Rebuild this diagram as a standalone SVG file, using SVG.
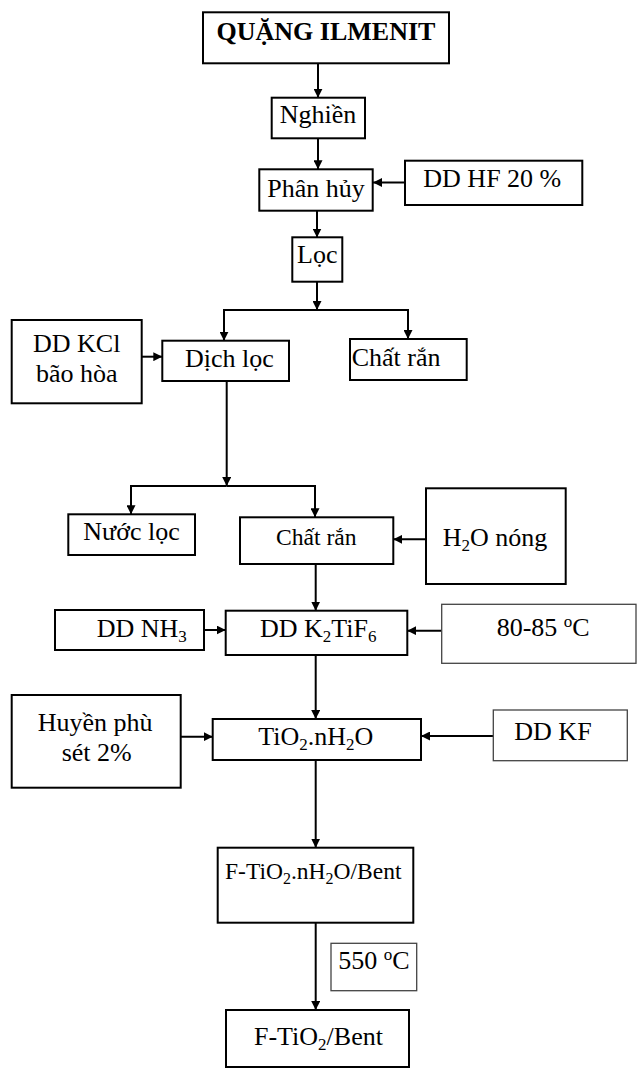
<svg xmlns="http://www.w3.org/2000/svg" width="637" height="1070" viewBox="0 0 637 1070">
<style>
.box{fill:#fff;stroke:#000;stroke-width:2}
.thin{fill:#fff;stroke:#444;stroke-width:1.3}
.t{font-family:"Liberation Serif","Times New Roman",serif;font-size:26px;fill:#000}
.b{font-weight:bold}
.c{stroke:#000;stroke-width:2;fill:none;marker-end:url(#ah)}
</style>
<defs>
<marker id="ah" viewBox="0 0 10 10" refX="10" refY="5" markerWidth="9" markerHeight="9" markerUnits="userSpaceOnUse" orient="auto">
<path d="M0,0 L10,5 L0,10 z" fill="#000"/>
</marker>
</defs>
<rect width="637" height="1070" fill="#fff"/>
<g id="connectors">
<path class="c" d="M318,63 V97.7"/>
<path class="c" d="M318,138.3 V169.3"/>
<path class="c" d="M405,182.5 H373"/>
<path class="c" d="M317,210.7 V237.5"/>
<path class="c" d="M317,281.7 V310"/>
<path class="c" d="M317,310 H224 V340.7"/>
<path class="c" d="M317,310 H408 V339"/>
<path class="c" d="M141.7,356.7 H162.3"/>
<path class="c" d="M226.7,380 V486"/>
<path class="c" d="M226.7,486 H131 V514.3"/>
<path class="c" d="M226.7,486 H315 V517.3"/>
<path class="c" d="M426,539.3 H393.3"/>
<path class="c" d="M315.7,564 V610.7"/>
<path class="c" d="M204,630 H225.7"/>
<path class="c" d="M441.7,630.7 H407.3"/>
<path class="c" d="M315.7,655 V719"/>
<path class="c" d="M180.7,736.7 H212.7"/>
<path class="c" d="M493.3,736 H421"/>
<path class="c" d="M315.7,760 V847.7"/>
<path class="c" d="M315.7,922.7 V1010"/>
</g>
<g id="n-quang"><rect class="box" x="203" y="12.3" width="246" height="51"/><text class="t b" x="326" y="40" text-anchor="middle">QUẶNG ILMENIT</text></g>
<g id="n-nghien"><rect class="box" x="271.7" y="97.7" width="93.3" height="40.6"/><text class="t" x="318" y="123" text-anchor="middle">Nghiền</text></g>
<g id="n-phanhuy"><rect class="box" x="259.3" y="169.3" width="113.4" height="41.4"/><text class="t" x="316" y="197" text-anchor="middle">Phân hủy</text></g>
<g id="n-hf"><rect class="box" x="405" y="160.7" width="177.3" height="44.3"/><text class="t" x="423.3" y="187">DD HF 20 %</text></g>
<g id="n-loc"><rect class="box" x="292.3" y="237.3" width="50" height="44.4"/><text class="t" x="317.3" y="263" text-anchor="middle">Lọc</text></g>
<g id="n-kcl"><rect class="box" x="11.7" y="320" width="130" height="83.3"/><text class="t" x="76.7" y="352" text-anchor="middle">DD KCl</text><text class="t" x="76.7" y="382" text-anchor="middle">bão hòa</text></g>
<g id="n-dichloc"><rect class="box" x="162.3" y="340.7" width="126.7" height="40.3"/><text class="t" x="185" y="367">Dịch lọc</text></g>
<g id="n-chatran1"><rect class="box" x="350" y="339" width="116.7" height="41"/><text class="t" x="351.7" y="366">Chất rắn</text></g>
<g id="n-nuocloc"><rect class="box" x="68.3" y="514.3" width="126.7" height="40.7"/><text class="t" x="83.3" y="540">Nước lọc</text></g>
<g id="n-chatran2"><rect class="box" x="240" y="517.3" width="153.3" height="46.7"/><text class="t" x="276" y="545" style="font-size:23.6px">Chất rắn</text></g>
<g id="n-h2o"><rect class="box" x="426" y="488.3" width="139.7" height="95.7"/><text class="t" x="442.7" y="546">H<tspan dy="5" style="font-size:17px">2</tspan><tspan dy="-5">O nóng</tspan></text></g>
<g id="n-nh3"><rect class="box" x="55" y="610" width="149" height="40"/><text class="t" x="96.7" y="637">DD NH<tspan dy="5" style="font-size:17px">3</tspan></text></g>
<g id="n-k2tif6"><rect class="box" x="225.7" y="610.7" width="181.6" height="44.3"/><text class="t" x="260" y="637">DD K<tspan dy="5" style="font-size:17px">2</tspan><tspan dy="-5">TiF</tspan><tspan dy="5" style="font-size:17px">6</tspan></text></g>
<g id="n-temp1"><rect class="thin" x="441.7" y="604.3" width="194.3" height="59"/><text class="t" x="496.7" y="636">80-85 <tspan dy="-9" style="font-size:17px">o</tspan><tspan dy="9">C</tspan></text></g>
<g id="n-huyenphu"><rect class="box" x="11.7" y="695" width="169" height="92.7"/><text class="t" x="37.7" y="731">Huyền phù</text><text class="t" x="61.7" y="761">sét 2%</text></g>
<g id="n-tio2"><rect class="box" x="212.7" y="719" width="208.3" height="41"/><text class="t" x="258.3" y="745">TiO<tspan dy="5" style="font-size:17px">2</tspan><tspan dy="-5">.nH</tspan><tspan dy="5" style="font-size:17px">2</tspan><tspan dy="-5">O</tspan></text></g>
<g id="n-kf"><rect class="thin" x="493.3" y="710" width="134" height="50.7"/><text class="t" x="514.3" y="740">DD KF</text></g>
<g id="n-ftio2nh2o"><rect class="box" x="217.7" y="847.7" width="195.6" height="75"/><text class="t" x="225" y="879" style="font-size:23.5px">F-TiO<tspan dy="5" style="font-size:16px">2</tspan><tspan dy="-5">.nH</tspan><tspan dy="5" style="font-size:16px">2</tspan><tspan dy="-5">O/Bent</tspan></text></g>
<g id="n-temp2"><rect class="thin" x="331" y="943.3" width="85.7" height="47.4"/><text class="t" x="338.3" y="969">550 <tspan dy="-9" style="font-size:17px">o</tspan><tspan dy="9">C</tspan></text></g>
<g id="n-ftio2"><rect class="box" x="226" y="1010" width="183" height="57"/><text class="t" x="254" y="1045">F-TiO<tspan dy="5" style="font-size:17px">2</tspan><tspan dy="-5">/Bent</tspan></text></g>
</svg>
